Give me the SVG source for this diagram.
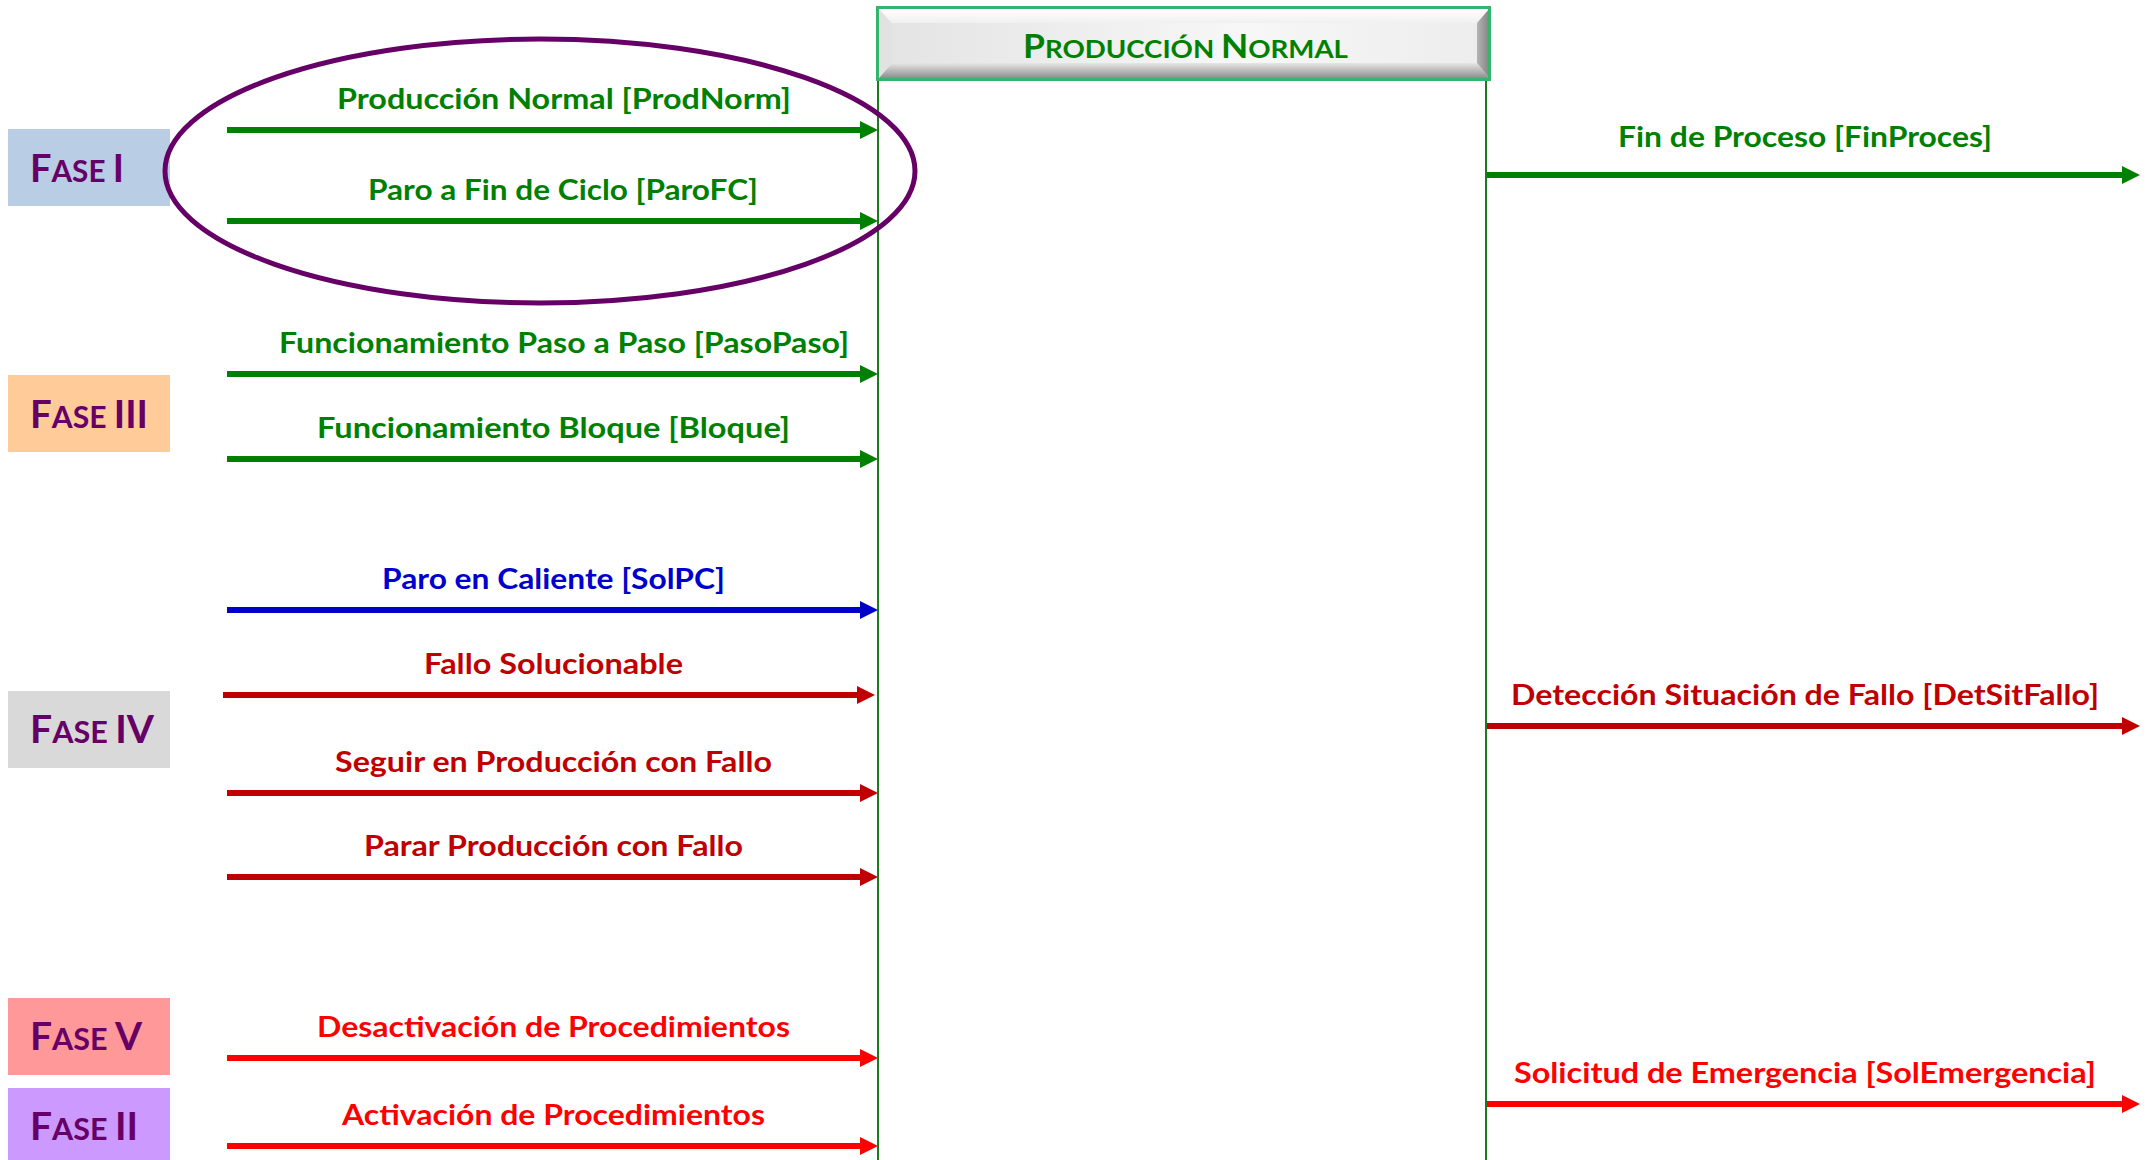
<svg xmlns="http://www.w3.org/2000/svg" width="2154" height="1160" viewBox="0 0 2154 1160">
  <style>
    .lbl { font-family: Lato, "Liberation Sans", sans-serif; font-weight: bold; font-size: 28px; }
    .fase { font-family: Lato, "Liberation Sans", sans-serif; font-weight: bold; fill: #660066; }
    .big { font-size: 39px; }
    .sm { font-size: 30.5px; }
    .g { fill: #008000; }
    .b { fill: #0000CC; }
    .dr { fill: #C00000; }
    .r { fill: #FF0000; }
    .ln { stroke-width: 6; fill: none; }
    .lg { stroke: #008000; marker-end: url(#ahG); }
    .lb { stroke: #0000CC; marker-end: url(#ahB); }
    .ldr { stroke: #C00000; marker-end: url(#ahDR); }
    .lr { stroke: #FF0000; marker-end: url(#ahR); }
    .life { stroke: #1E7A1E; stroke-width: 2; }
  </style>
  <defs>
    <marker id="ahG" markerUnits="userSpaceOnUse" markerWidth="18" markerHeight="18" refX="8" refY="9" orient="auto">
      <path d="M0,0 L18,9 L0,18 z" fill="#008000"/>
    </marker>
    <marker id="ahB" markerUnits="userSpaceOnUse" markerWidth="18" markerHeight="18" refX="8" refY="9" orient="auto">
      <path d="M0,0 L18,9 L0,18 z" fill="#0000CC"/>
    </marker>
    <marker id="ahDR" markerUnits="userSpaceOnUse" markerWidth="18" markerHeight="18" refX="8" refY="9" orient="auto">
      <path d="M0,0 L18,9 L0,18 z" fill="#C00000"/>
    </marker>
    <marker id="ahR" markerUnits="userSpaceOnUse" markerWidth="18" markerHeight="18" refX="8" refY="9" orient="auto">
      <path d="M0,0 L18,9 L0,18 z" fill="#FF0000"/>
    </marker>
    <linearGradient id="faceG" x1="0" y1="0" x2="1" y2="0">
      <stop offset="0" stop-color="#E4E4E4"/>
      <stop offset="0.6" stop-color="#F7F7F7"/>
      <stop offset="1" stop-color="#EDEDED"/>
    </linearGradient>
    <linearGradient id="topG" x1="0" y1="0" x2="0" y2="1">
      <stop offset="0" stop-color="#FFFFFF"/>
      <stop offset="1" stop-color="#F0F0F0"/>
    </linearGradient>
    <linearGradient id="botG" x1="0" y1="0" x2="0" y2="1">
      <stop offset="0" stop-color="#E6E6E6"/>
      <stop offset="1" stop-color="#8E8E8E"/>
    </linearGradient>
    <linearGradient id="rightG" x1="0" y1="0" x2="1" y2="0">
      <stop offset="0" stop-color="#B4B4B4"/>
      <stop offset="1" stop-color="#858585"/>
    </linearGradient>
  </defs>

  <rect width="2154" height="1160" fill="#FFFFFF"/>

  <!-- phase tags on the left -->
  <g id="fase-i">
    <rect x="8" y="129" width="162" height="77" fill="#B9CDE5"/>
    <text class="fase" x="30" y="182" textLength="94" lengthAdjust="spacingAndGlyphs"><tspan class="big">F</tspan><tspan class="sm">ASE </tspan><tspan class="big">I</tspan></text>
  </g>
  <g id="fase-iii">
    <rect x="8" y="375" width="162" height="77" fill="#FFCC99"/>
    <text class="fase" x="30" y="428" textLength="118" lengthAdjust="spacingAndGlyphs"><tspan class="big">F</tspan><tspan class="sm">ASE </tspan><tspan class="big">III</tspan></text>
  </g>
  <g id="fase-iv">
    <rect x="8" y="691" width="162" height="77" fill="#D9D9D9"/>
    <text class="fase" x="30" y="743" textLength="124" lengthAdjust="spacingAndGlyphs"><tspan class="big">F</tspan><tspan class="sm">ASE </tspan><tspan class="big">IV</tspan></text>
  </g>
  <g id="fase-v">
    <rect x="8" y="998" width="162" height="77" fill="#FF9999"/>
    <text class="fase" x="30" y="1050" textLength="112" lengthAdjust="spacingAndGlyphs"><tspan class="big">F</tspan><tspan class="sm">ASE </tspan><tspan class="big">V</tspan></text>
  </g>
  <g id="fase-ii">
    <rect x="8" y="1088" width="162" height="77" fill="#CC99FF"/>
    <text class="fase" x="30" y="1140" textLength="108" lengthAdjust="spacingAndGlyphs"><tspan class="big">F</tspan><tspan class="sm">ASE </tspan><tspan class="big">II</tspan></text>
  </g>

  <!-- state: Producción Normal (bevelled title bar + lifelines) -->
  <g id="produccion-normal">
    <line class="life" x1="878" y1="80" x2="878" y2="1160"/>
    <line class="life" x1="1486" y1="80" x2="1486" y2="1160"/>
    <polygon points="879,9 1489,9 1477,23 892,23" fill="url(#topG)"/>
    <polygon points="879,9 892,23 892,63 879,78" fill="#E2E2E2"/>
    <polygon points="879,78 892,63 1477,63 1489,78" fill="url(#botG)"/>
    <polygon points="1489,9 1489,78 1477,63 1477,23" fill="url(#rightG)"/>
    <rect x="892" y="23" width="585" height="40" fill="url(#faceG)"/>
    <rect x="877.5" y="7.5" width="612" height="72" fill="none" stroke="#34B56C" stroke-width="3"/>
    <text class="lbl g" x="1023" y="58" textLength="325" lengthAdjust="spacingAndGlyphs"><tspan font-size="32">P</tspan><tspan font-size="25">RODUCCIÓN </tspan><tspan font-size="32">N</tspan><tspan font-size="25">ORMAL</tspan></text>
  </g>

  <!-- grouping ellipse around the Fase I transitions -->
  <g id="grupo-fase-i">
    <ellipse cx="540" cy="171" rx="375" ry="132" fill="none" stroke="#660066" stroke-width="5"/>
  </g>

  <!-- transitions -->
  <g id="connectors">
    <line class="ln lg" x1="227" y1="130" x2="868" y2="130"/>
    <line class="ln lg" x1="227" y1="221" x2="868" y2="221"/>
    <line class="ln lg" x1="227" y1="374" x2="868" y2="374"/>
    <line class="ln lg" x1="227" y1="459" x2="868" y2="459"/>
    <line class="ln lb" x1="227" y1="610" x2="868" y2="610"/>
    <line class="ln ldr" x1="223" y1="695" x2="865" y2="695"/>
    <line class="ln ldr" x1="227" y1="793" x2="868" y2="793"/>
    <line class="ln ldr" x1="227" y1="877" x2="868" y2="877"/>
    <line class="ln lr" x1="227" y1="1058" x2="868" y2="1058"/>
    <line class="ln lr" x1="227" y1="1146" x2="868" y2="1146"/>
    <line class="ln lg" x1="1487" y1="175" x2="2130" y2="175"/>
    <line class="ln ldr" x1="1487" y1="726" x2="2130" y2="726"/>
    <line class="ln lr" x1="1487" y1="1104" x2="2130" y2="1104"/>

    <text class="lbl g" x="337" y="109" textLength="454" lengthAdjust="spacingAndGlyphs">Producción Normal [ProdNorm]</text>
    <text class="lbl g" x="368" y="200" textLength="390" lengthAdjust="spacingAndGlyphs">Paro a Fin de Ciclo [ParoFC]</text>
    <text class="lbl g" x="279" y="353" textLength="570" lengthAdjust="spacingAndGlyphs">Funcionamiento Paso a Paso [PasoPaso]</text>
    <text class="lbl g" x="317" y="438" textLength="473" lengthAdjust="spacingAndGlyphs">Funcionamiento Bloque [Bloque]</text>
    <text class="lbl b" x="382" y="589" textLength="343" lengthAdjust="spacingAndGlyphs">Paro en Caliente [SolPC]</text>
    <text class="lbl dr" x="424" y="674" textLength="259" lengthAdjust="spacingAndGlyphs">Fallo Solucionable</text>
    <text class="lbl dr" x="335" y="772" textLength="437" lengthAdjust="spacingAndGlyphs">Seguir en Producción con Fallo</text>
    <text class="lbl dr" x="364" y="856" textLength="379" lengthAdjust="spacingAndGlyphs">Parar Producción con Fallo</text>
    <text class="lbl r" x="317" y="1037" textLength="473" lengthAdjust="spacingAndGlyphs">Desactivación de Procedimientos</text>
    <text class="lbl r" x="342" y="1125" textLength="423" lengthAdjust="spacingAndGlyphs">Activación de Procedimientos</text>
    <text class="lbl g" x="1618" y="147" textLength="374" lengthAdjust="spacingAndGlyphs">Fin de Proceso [FinProces]</text>
    <text class="lbl dr" x="1511" y="705" textLength="588" lengthAdjust="spacingAndGlyphs">Detección Situación de Fallo [DetSitFallo]</text>
    <text class="lbl r" x="1514" y="1083" textLength="582" lengthAdjust="spacingAndGlyphs">Solicitud de Emergencia [SolEmergencia]</text>
  </g>
</svg>
